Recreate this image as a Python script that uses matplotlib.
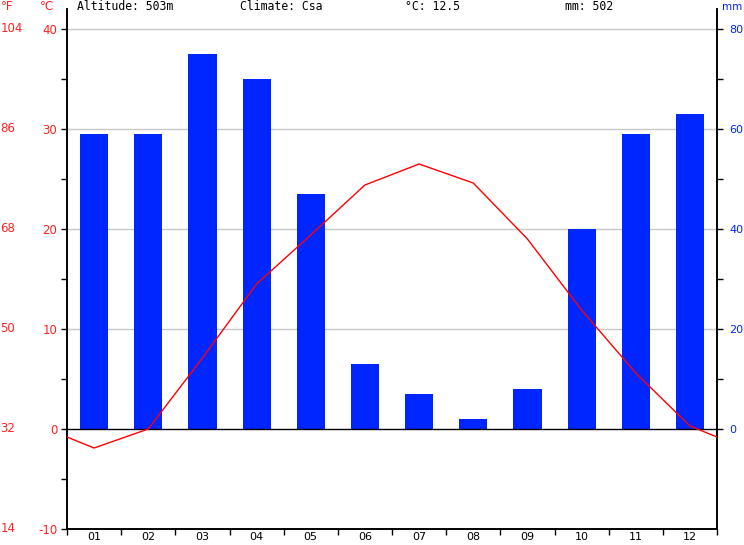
import matplotlib
matplotlib.use("Agg")
import matplotlib.pyplot as plt
import matplotlib.transforms as mtransforms
import numpy as np

months = ["01", "02", "03", "04", "05", "06", "07", "08", "09", "10", "11", "12"]
precip_mm = [59, 59, 75, 70, 47, 13, 7, 2, 8, 40, 59, 63]
temp_c = [-1.9, 0.0, 7.1, 14.5, 19.4, 24.4, 26.5, 24.6, 19.0, 11.9, 5.6, 0.3]
c_ticks = [-10, 0, 10, 20, 30, 40]
f_labels = ["14", "32", "50", "68", "86", "104"]
mm_ticks = [0, 20, 40, 60, 80]
header_texts = ["Altitude: 503m", "Climate: Csa", "°C: 12.5", "mm: 502"]

RED = "#ff2020"
BLUE = "#0026ff"

W, H = 744, 545
fig = plt.figure(figsize=(W / 100, H / 100), dpi=100)
x0, x1, ytop, ybot = 67, 717, 9, 529
rect = [x0 / W, (H - ybot) / H, (x1 - x0) / W, (ybot - ytop) / H]

ax_c = fig.add_axes(rect)
ax_mm = ax_c.twinx()
ax_c.set_zorder(ax_mm.get_zorder() + 1)
ax_c.patch.set_visible(False)

ax_c.set_xlim(0, 12)
ax_c.set_ylim(-10, 42)
ax_mm.set_ylim(-20, 84)

for g in [20, 40, 60, 80]:
    ax_mm.axhline(g, color="#c8c8c8", lw=1, zorder=0)

xc = np.arange(12) + 0.5
ax_mm.bar(xc, precip_mm, width=0.52, color=BLUE, zorder=2)

edge = (temp_c[0] + temp_c[-1]) / 2
xs = np.concatenate([[0], xc, [12]])
ys = np.concatenate([[edge], temp_c, [edge]])
ax_c.plot(xs, ys, color="#ff0000", lw=1, zorder=5)
ax_c.axhline(0, color="black", lw=1, zorder=4)

for a in (ax_c, ax_mm):
    a.spines["top"].set_visible(False)
    for s in ("left", "right", "bottom"):
        a.spines[s].set_linewidth(1.2)
        a.spines[s].set_color("black")

ax_c.set_yticks(c_ticks)
ax_c.set_yticklabels([str(t) for t in c_ticks])
ax_c.set_yticks([-5, 5, 15, 25, 35], minor=True)
ax_c.tick_params(axis="y", which="both", direction="out", length=4, width=1,
                 colors="black", labelcolor=RED, labelsize=8.5, pad=3)

ax_mm.set_yticks(mm_ticks)
ax_mm.set_yticklabels([str(t) for t in mm_ticks])
ax_mm.set_yticks([10, 30, 50, 70], minor=True)
ax_mm.tick_params(axis="y", which="both", direction="out", length=4, width=1,
                  colors="black", labelcolor=BLUE, labelsize=8, pad=5)

ax_c.set_xticks(xc)
ax_c.set_xticklabels(months)
ax_c.set_xticks(np.arange(13), minor=True)
ax_c.tick_params(axis="x", which="major", length=0, labelsize=8, pad=2)
ax_c.tick_params(axis="x", which="minor", direction="out", length=4, width=1)
ax_mm.tick_params(axis="x", which="both", length=0)

ftrans = mtransforms.blended_transform_factory(fig.transFigure, ax_c.transData)
for c, f in zip(c_ticks, f_labels):
    ax_c.text(0.5 / W, c, f, transform=ftrans, color=RED,
              fontsize=8.5, ha="left", va="center", clip_on=False)

fig.text(0.5 / W, 1 - 7 / H, "°F", color=RED, fontsize=8.5, ha="left", va="center")
fig.text(40 / W, 1 - 7 / H, "°C", color=RED, fontsize=8.5, ha="left", va="center")
fig.text(742 / W, 1 - 7 / H, "mm", color=BLUE, fontsize=7.5, ha="right", va="center")
hx = [77, 240, 405, 565]
for x, s in zip(hx, header_texts):
    fig.text(x / W, 1 - 6.5 / H, s, color="black", fontsize=8.3,
             family="DejaVu Sans Mono", ha="left", va="center")

fig.savefig("out.png", dpi=100)
